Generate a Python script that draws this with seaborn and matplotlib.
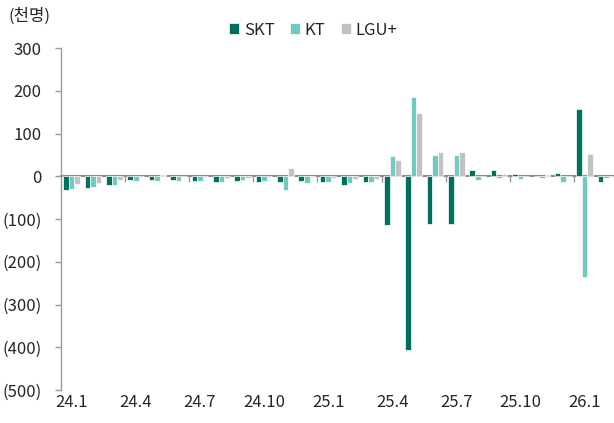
import matplotlib
matplotlib.use("Agg")
import matplotlib.pyplot as plt
import seaborn as sns
import pandas as pd

months = ["24.1", "24.2", "24.3", "24.4", "24.5", "24.6", "24.7", "24.8", "24.9", "24.10", "24.11", "24.12",
          "25.1", "25.2", "25.3", "25.4", "25.5", "25.6", "25.7", "25.8", "25.9", "25.10", "25.11", "25.12",
          "26.1", "26.2"]
carriers = ["SKT", "KT", "LGU+"]
skt = [-33, -27, -20, -9, -8, -9, -10, -13, -12, -13, -13, -12,
       -14, -21, -13, -114, -406, -111, -111, 14, 14, 5, 0, 8,
       158, -13]
kt = [-29, -25, -20, -12, -12, -11, -11, -13, -9, -11, -31, -15,
      -14, -16, -13, 48, 186, 49, 49, -8, -3, -7, -5, -13,
      -235, -3]
lgu = [-18, -16, -9, 0, 3, 0, 0, -3, -3, 0, 20, -2,
       -4, -7, -6, 37, 149, 57, 56, 0, 5, 0, 2, 0,
       51, 0]
label_months = ["24.1", "24.4", "24.7", "24.10", "25.1", "25.4", "25.7", "25.10", "26.1"]
yticks = [300, 200, 100, 0, -100, -200, -300, -400, -500]
unit_label = "(천명)"

colors = {"SKT": "#02705f", "KT": "#6dccbf", "LGU+": "#c2c2c2"}

df = pd.DataFrame({
    "month": months * 3,
    "carrier": ["SKT"] * len(months) + ["KT"] * len(months) + ["LGU+"] * len(months),
    "value": skt + kt + lgu,
})

sns.set_theme(style="white")
FONT = ["Noto Sans CJK KR", "DejaVu Sans"]
plt.rcParams["font.family"] = FONT
text_color = "#262626"

W, H = 614, 423
fig = plt.figure(figsize=(W / 100, H / 100), dpi=100)
ax_left, ax_right, ax_top, ax_bot = 61, 616.7, 48, 390
ax = fig.add_axes([ax_left / W, 1 - ax_bot / H, (ax_right - ax_left) / W, (ax_bot - ax_top) / H])

sns.barplot(data=df, x="month", y="value", hue="carrier", order=months, hue_order=carriers,
            palette=colors, saturation=1, width=0.78, edgecolor="white", linewidth=0.5, ax=ax)

handles, labels = ax.get_legend_handles_labels()
if ax.legend_ is not None:
    ax.legend_.remove()

ax.set_xlim(-0.5, len(months) - 0.5)
ax.set_ylim(-500, 300)
ax.set_xlabel("")
ax.set_ylabel("")

# spines
for s in ["top", "right"]:
    ax.spines[s].set_visible(False)
ax.spines["left"].set_color("#9a9a9a")
ax.spines["left"].set_linewidth(1.0)
ax.spines["bottom"].set_position(("data", 0))
ax.spines["bottom"].set_color("#8c8c8c")
ax.spines["bottom"].set_linewidth(1.5)
ax.spines["bottom"].set_zorder(0.5)

# y ticks
ax.set_yticks(yticks)
ax.set_yticklabels([f"({abs(v)})" if v < 0 else f"{v}" for v in yticks],
                   fontsize=12, color=text_color, family=FONT)
ax.tick_params(axis="y", direction="out", length=4, width=1, color="#9a9a9a", pad=10, left=True)

# x ticks: boundary marks on zero line every 3 months
bounds = [i - 0.5 for i in range(3, len(months), 3)]
ax.set_xticks(bounds)
ax.set_xticklabels([])
ax.tick_params(axis="x", direction="out", length=4, width=1, color="#9a9a9a", bottom=True, labelbottom=False)

# category labels at bottom of axes
sec = ax.secondary_xaxis("bottom")
sec.set_xticks([months.index(m) for m in label_months])
sec.set_xticklabels(label_months, fontsize=12, color=text_color, family=FONT)
sec.tick_params(axis="x", length=0, pad=3)
sec.spines["bottom"].set_visible(False)

fig.legend(handles, labels, loc="center", bbox_to_anchor=(0.51, 0.929), ncol=3, frameon=False,
           handlelength=0.6, handleheight=0.6, columnspacing=0.9, handletextpad=0.3,
           prop={"family": FONT, "size": 12}, labelcolor=text_color)

fig.text(8 / W, 1 - 16 / H, unit_label, fontsize=12, color=text_color, va="center", ha="left", family=FONT)

fig.savefig("out.png", dpi=100)
